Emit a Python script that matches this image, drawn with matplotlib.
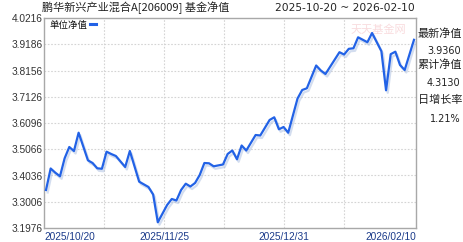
import matplotlib
matplotlib.use("Agg")
import matplotlib.pyplot as plt
import matplotlib.patheffects as pe
import numpy as np

plt.rcParams['font.family'] = ['Noto Sans CJK SC', 'DejaVu Sans']

# ---- data ----
title_text = "鹏华新兴产业混合A[206009] 基金净值"
range_text = "2025-10-20 ~ 2026-02-10"
legend_label = "单位净值"
# trading-day index (0 = 2025-10-20, 79 = 2026-02-10) of visible vertices
day_idx = [0, 1, 2, 3, 4, 5, 6, 7, 9, 10, 11, 12, 13, 14, 15, 17, 18, 20, 22, 23,
           24, 26, 27, 28, 29, 30, 31, 32, 33, 34, 35, 36, 38, 39, 40, 41, 42, 43,
           45, 46, 48, 49, 50, 51, 52, 54, 55, 56, 58, 59, 60, 63, 64, 65, 66, 67,
           69, 70, 72, 73, 74, 75, 76, 77, 79]
nav = [3.3467, 3.4311, 3.4146, 3.4005, 3.4711, 3.5154, 3.4997, 3.5715, 3.4632, 3.4526,
       3.4319, 3.4299, 3.4970, 3.4880, 3.4801, 3.4370, 3.4997, 3.3793, 3.3585, 3.3290,
       3.2200, 3.2878, 3.3114, 3.3055, 3.3467, 3.3714, 3.3604, 3.3742, 3.4056, 3.4526,
       3.4515, 3.4397, 3.4468, 3.4880, 3.5017, 3.4672, 3.5213, 3.5017, 3.5625, 3.5606,
       3.6214, 3.6320, 3.5849, 3.5939, 3.5715, 3.7057, 3.7391, 3.7458, 3.8352, 3.8156,
       3.8019, 3.8874, 3.8784, 3.9007, 3.9027, 3.9459, 3.9266, 3.9627, 3.8913, 3.7379,
       3.8796, 3.8894, 3.8372, 3.8176, 3.9360]
y_ticks = [3.1976, 3.3006, 3.4036, 3.5066, 3.6096, 3.7126, 3.8156, 3.9186, 4.0216]
x_labels = ["2025/10/20", "2025/11/25", "2025/12/31", "2026/02/10"]
side_labels = ["最新净值", "累计净值", "日增长率"]
side_values = ["3.9360", "4.3130", "1.21%"]

W, H = 463, 242
fig = plt.figure(figsize=(W / 100, H / 100), dpi=100)
fig.patch.set_facecolor('white')
ax = fig.add_axes([44 / W, 1 - 228 / H, 372 / W, 210 / H])

line_color = '#2262e6'
ax.plot(day_idx, nav, color=line_color, lw=1.6, solid_joinstyle='round',
        path_effects=[pe.SimpleLineShadow(offset=(1.2, -1.8), shadow_color='#a9bde0', alpha=0.5),
                      pe.Normal()], zorder=3)

xmin, xmax = -0.43, 79.43
ax.set_xlim(xmin, xmax)
ax.set_ylim(y_ticks[0], y_ticks[-1])

# y axis
ax.set_yticks(y_ticks)
ax.set_yticklabels([f"{v:.4f}" for v in y_ticks], family='Liberation Sans',
                   fontsize=7.3, color='#333333')
ax.tick_params(axis='y', length=0, pad=1.2)
for v in y_ticks[1:-1]:
    ax.axhline(v, color='#d4d4d4', lw=0.8, ls=(0, (1.5, 1.5)), zorder=1)

# vertical grid lines every 60 px
span = xmax - xmin
grid_x = [xmin + span * k * 60 / 372 for k in range(1, 6)]
for gx in grid_x:
    ax.axvline(gx, color='#d4d4d4', lw=0.8, ls=(0, (1.5, 1.5)), zorder=1)

ax.set_xticks([xmin, grid_x[1], grid_x[3], xmax])
ax.set_xticklabels(x_labels, family='Liberation Sans', fontsize=7.3, color='#1a3a8a')
ax.tick_params(axis='x', length=0, pad=3.0)
xt = ax.get_xticklabels()
xt[0].set_ha('left')
xt[-1].set_ha('right')

for s in ax.spines.values():
    s.set_color('#a8a8a8')
    s.set_linewidth(1.0)

# legend
ax.text(50 / W, 1 - 25.5 / H, legend_label, transform=fig.transFigure, fontsize=6.8,
        color='#111111', ha='left', va='center')
fig.add_artist(plt.Line2D([89.5 / W, 96 / W], [1 - 24 / H, 1 - 24 / H], color=line_color, lw=2.2))

# watermark
ax.text(378 / W, 1 - 30 / H, "天天基金网", transform=fig.transFigure, fontsize=8,
        color='#f3b8bc', alpha=0.5, ha='center', va='center', zorder=0)

# title
fig.text(42 / W, 1 - 7.8 / H, title_text, fontsize=8, color='#222222', ha='left', va='center')
fig.text(415 / W, 1 - 7.8 / H, range_text, family='DejaVu Sans', fontsize=7.7,
         color='#222222', ha='right', va='center')

# side panel
lab_y = [33.5, 64.5, 100]
val_y = [51, 83.3, 119]
for t, y in zip(side_labels, lab_y):
    fig.text(417.5 / W, 1 - y / H, t, fontsize=8, color='#222222', ha='left', va='center')
for t, y in zip(side_values, val_y):
    fig.text(460.5 / W, 1 - y / H, t, family='DejaVu Sans', fontsize=7,
             color='#222222', ha='right', va='center')

fig.savefig('out.png', dpi=100, facecolor='white')
